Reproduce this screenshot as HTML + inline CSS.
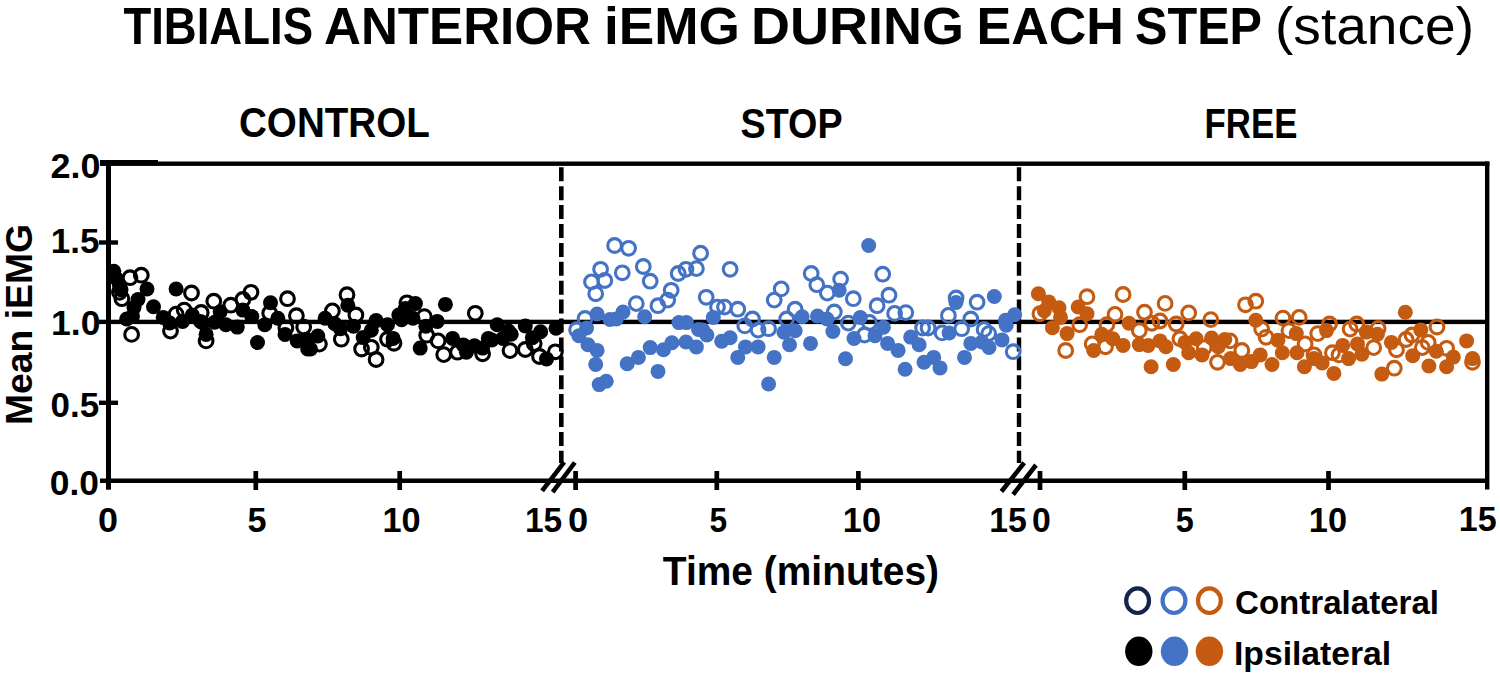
<!DOCTYPE html>
<html><head><meta charset="utf-8"><title>Tibialis anterior iEMG</title>
<style>html,body{margin:0;padding:0;background:#fff;}body{width:1500px;height:679px;overflow:hidden;}svg{display:block;font-family:'Liberation Sans',sans-serif;}text{font-family:'Liberation Sans',sans-serif;fill:#000;}</style>
</head><body>
<svg width="1500" height="679" viewBox="0 0 1500 679"><rect width="1500" height="679" fill="#fff"/><rect x="100" y="161.5" width="1389.40" height="4.40" fill="#000"/><rect x="100" y="160" width="58.00" height="5.40" fill="#000"/><rect x="1485" y="161.5" width="4.40" height="328.00" fill="#000"/><rect x="106" y="161.5" width="5.00" height="328.20" fill="#000"/><rect x="99" y="240.3" width="19.00" height="4.40" fill="#000"/><rect x="99" y="400.6" width="19.00" height="4.40" fill="#000"/><rect x="99" y="319.7" width="1388.00" height="4.40" fill="#000"/><rect x="100" y="478.5" width="1389.00" height="4.50" fill="#000"/><rect x="253.45000000000002" y="471" width="4.70" height="19.00" fill="#000"/><rect x="397.34999999999997" y="471" width="4.70" height="19.00" fill="#000"/><rect x="573.25" y="471" width="4.70" height="19.00" fill="#000"/><rect x="714.4499999999999" y="471" width="4.70" height="19.00" fill="#000"/><rect x="856.05" y="471" width="4.70" height="19.00" fill="#000"/><rect x="1037.65" y="471" width="4.70" height="19.00" fill="#000"/><rect x="1182.45" y="471" width="4.70" height="19.00" fill="#000"/><rect x="1326.15" y="471" width="4.70" height="19.00" fill="#000"/><line x1="561.3" y1="167.3" x2="561.3" y2="463" stroke="#000" stroke-width="4.6" stroke-dasharray="14 4.9"/><line x1="1019" y1="167.3" x2="1019" y2="463" stroke="#000" stroke-width="4.4" stroke-dasharray="14 4.9"/><line x1="542.1" y1="490.8" x2="564.2" y2="462.1" stroke="#000" stroke-width="4.6"/><line x1="552.7" y1="492.2" x2="574.8" y2="462.5" stroke="#000" stroke-width="4.6"/><line x1="1001.4" y1="491.5" x2="1024.2" y2="462.8" stroke="#000" stroke-width="4.6"/><line x1="1013.1" y1="494.5" x2="1036" y2="465" stroke="#000" stroke-width="4.6"/><text x="123.40" y="44.4" font-weight="bold" font-size="51" textLength="189.60" lengthAdjust="spacingAndGlyphs">TIBIALIS</text><text x="324.00" y="44.4" font-weight="bold" font-size="51" textLength="267.00" lengthAdjust="spacingAndGlyphs">ANTERIOR</text><text x="604.00" y="44.4" font-weight="bold" font-size="51" textLength="136.00" lengthAdjust="spacingAndGlyphs">iEMG</text><text x="751.00" y="44.4" font-weight="bold" font-size="51" textLength="213.00" lengthAdjust="spacingAndGlyphs">DURING</text><text x="976.40" y="44.4" font-weight="bold" font-size="51" textLength="147.60" lengthAdjust="spacingAndGlyphs">EACH</text><text x="1135.00" y="44.4" font-weight="bold" font-size="51" textLength="127.00" lengthAdjust="spacingAndGlyphs">STEP</text><text x="1275.00" y="44.4" font-weight="normal" font-size="51" textLength="199.00" lengthAdjust="spacingAndGlyphs">(stance)</text><text x="239.00" y="136.5" font-weight="bold" font-size="43" textLength="190.80" lengthAdjust="spacingAndGlyphs">CONTROL</text><text x="740.60" y="137.7" font-weight="bold" font-size="43" textLength="102.00" lengthAdjust="spacingAndGlyphs">STOP</text><text x="1204.60" y="138.2" font-weight="bold" font-size="43" textLength="92.80" lengthAdjust="spacingAndGlyphs">FREE</text><text x="662.80" y="584.6" font-weight="bold" font-size="40.5" textLength="276.20" lengthAdjust="spacingAndGlyphs">Time (minutes)</text><text x="1235.00" y="614" font-weight="bold" font-size="34" textLength="204.00" lengthAdjust="spacingAndGlyphs">Contralateral</text><text x="1234.00" y="664.5" font-weight="bold" font-size="34" textLength="157.20" lengthAdjust="spacingAndGlyphs">Ipsilateral</text><text x="50.40" y="177.6" font-weight="bold" font-size="34.5" textLength="50.00" lengthAdjust="spacingAndGlyphs">2.0</text><text x="50.80" y="252.9" font-weight="bold" font-size="34.5" textLength="48.60" lengthAdjust="spacingAndGlyphs">1.5</text><text x="51.00" y="334.9" font-weight="bold" font-size="34.5" textLength="49.40" lengthAdjust="spacingAndGlyphs">1.0</text><text x="50.60" y="417.1" font-weight="bold" font-size="34.5" textLength="48.60" lengthAdjust="spacingAndGlyphs">0.5</text><text x="49.80" y="494.7" font-weight="bold" font-size="34.5" textLength="49.20" lengthAdjust="spacingAndGlyphs">0.0</text><text x="98.00" y="532" font-weight="bold" font-size="34.5" textLength="20.00" lengthAdjust="spacingAndGlyphs">0</text><text x="247.60" y="532" font-weight="bold" font-size="34.5" textLength="19.00" lengthAdjust="spacingAndGlyphs">5</text><text x="382.40" y="532" font-weight="bold" font-size="34.5" textLength="38.20" lengthAdjust="spacingAndGlyphs">10</text><text x="525.00" y="532" font-weight="bold" font-size="34.5" textLength="37.20" lengthAdjust="spacingAndGlyphs">15</text><text x="568.00" y="532" font-weight="bold" font-size="34.5" textLength="20.20" lengthAdjust="spacingAndGlyphs">0</text><text x="709.40" y="532" font-weight="bold" font-size="34.5" textLength="17.60" lengthAdjust="spacingAndGlyphs">5</text><text x="842.80" y="532" font-weight="bold" font-size="34.5" textLength="38.20" lengthAdjust="spacingAndGlyphs">10</text><text x="989.20" y="532" font-weight="bold" font-size="34.5" textLength="37.60" lengthAdjust="spacingAndGlyphs">15</text><text x="1032.00" y="532" font-weight="bold" font-size="34.5" textLength="18.80" lengthAdjust="spacingAndGlyphs">0</text><text x="1175.80" y="532" font-weight="bold" font-size="34.5" textLength="18.00" lengthAdjust="spacingAndGlyphs">5</text><text x="1308.80" y="532" font-weight="bold" font-size="34.5" textLength="38.20" lengthAdjust="spacingAndGlyphs">10</text><text x="1458.80" y="531" font-weight="bold" font-size="34.5" textLength="37.80" lengthAdjust="spacingAndGlyphs">15</text><text transform="translate(31.6,522) rotate(-90)" x="97.00" y="0" font-weight="bold" font-size="37.6" textLength="201.00" lengthAdjust="spacingAndGlyphs">Mean iEMG</text><g fill="none" stroke="#000" stroke-width="3.1"><circle cx="130.0" cy="277.7" r="6.85"/><circle cx="141.3" cy="275.2" r="6.85"/><circle cx="121.9" cy="298.7" r="6.85"/><circle cx="119.4" cy="292.3" r="6.85"/><circle cx="131.6" cy="334.4" r="6.85"/><circle cx="191.5" cy="293.0" r="6.85"/><circle cx="176.1" cy="314.1" r="6.85"/><circle cx="184.2" cy="310.1" r="6.85"/><circle cx="170.5" cy="331.1" r="6.85"/><circle cx="201.2" cy="312.5" r="6.85"/><circle cx="206.1" cy="340.9" r="6.85"/><circle cx="213.8" cy="301.2" r="6.85"/><circle cx="230.8" cy="305.2" r="6.85"/><circle cx="242.9" cy="299.5" r="6.85"/><circle cx="251.0" cy="292.3" r="6.85"/><circle cx="287.5" cy="298.7" r="6.85"/><circle cx="296.4" cy="315.7" r="6.85"/><circle cx="303.7" cy="327.1" r="6.85"/><circle cx="269.7" cy="313.3" r="6.85"/><circle cx="285.9" cy="327.9" r="6.85"/><circle cx="347.0" cy="294.7" r="6.85"/><circle cx="332.4" cy="310.9" r="6.85"/><circle cx="355.9" cy="315.0" r="6.85"/><circle cx="319.4" cy="344.1" r="6.85"/><circle cx="341.3" cy="339.2" r="6.85"/><circle cx="361.6" cy="349.0" r="6.85"/><circle cx="371.3" cy="347.3" r="6.85"/><circle cx="376.1" cy="359.5" r="6.85"/><circle cx="387.5" cy="339.2" r="6.85"/><circle cx="394.0" cy="343.3" r="6.85"/><circle cx="406.9" cy="302.8" r="6.85"/><circle cx="424.3" cy="316.6" r="6.85"/><circle cx="426.7" cy="335.2" r="6.85"/><circle cx="438.1" cy="340.9" r="6.85"/><circle cx="443.7" cy="354.6" r="6.85"/><circle cx="457.5" cy="352.2" r="6.85"/><circle cx="475.3" cy="313.3" r="6.85"/><circle cx="482.6" cy="353.8" r="6.85"/><circle cx="510.0" cy="350.6" r="6.85"/><circle cx="525.3" cy="349.5" r="6.85"/><circle cx="534.2" cy="343.6" r="6.85"/><circle cx="539.5" cy="356.5" r="6.85"/><circle cx="555.4" cy="351.8" r="6.85"/></g><g fill="#000"><circle cx="113.8" cy="271.2" r="7.5"/><circle cx="116.2" cy="278.5" r="7.5"/><circle cx="119.4" cy="285.0" r="7.5"/><circle cx="121.0" cy="289.8" r="7.5"/><circle cx="147.0" cy="289.0" r="7.5"/><circle cx="138.0" cy="299.5" r="7.5"/><circle cx="134.0" cy="307.6" r="7.5"/><circle cx="153.5" cy="306.8" r="7.5"/><circle cx="126.7" cy="319.0" r="7.5"/><circle cx="132.4" cy="316.6" r="7.5"/><circle cx="176.1" cy="289.0" r="7.5"/><circle cx="163.2" cy="317.4" r="7.5"/><circle cx="169.7" cy="323.0" r="7.5"/><circle cx="182.6" cy="321.4" r="7.5"/><circle cx="192.3" cy="315.0" r="7.5"/><circle cx="200.4" cy="321.4" r="7.5"/><circle cx="206.1" cy="334.4" r="7.5"/><circle cx="203.2" cy="323.0" r="7.5"/><circle cx="214.6" cy="322.2" r="7.5"/><circle cx="220.2" cy="311.7" r="7.5"/><circle cx="225.9" cy="324.7" r="7.5"/><circle cx="237.3" cy="327.1" r="7.5"/><circle cx="242.9" cy="310.1" r="7.5"/><circle cx="251.8" cy="316.6" r="7.5"/><circle cx="264.8" cy="324.7" r="7.5"/><circle cx="270.5" cy="302.8" r="7.5"/><circle cx="277.8" cy="318.2" r="7.5"/><circle cx="257.5" cy="342.5" r="7.5"/><circle cx="285.0" cy="334.4" r="7.5"/><circle cx="297.2" cy="340.9" r="7.5"/><circle cx="307.7" cy="349.0" r="7.5"/><circle cx="347.8" cy="305.2" r="7.5"/><circle cx="325.1" cy="318.2" r="7.5"/><circle cx="334.8" cy="323.8" r="7.5"/><circle cx="340.5" cy="328.7" r="7.5"/><circle cx="353.5" cy="326.3" r="7.5"/><circle cx="310.5" cy="349.0" r="7.5"/><circle cx="317.8" cy="336.0" r="7.5"/><circle cx="306.5" cy="339.2" r="7.5"/><circle cx="363.2" cy="337.6" r="7.5"/><circle cx="371.3" cy="330.3" r="7.5"/><circle cx="376.1" cy="320.6" r="7.5"/><circle cx="387.5" cy="324.7" r="7.5"/><circle cx="393.1" cy="338.4" r="7.5"/><circle cx="398.8" cy="315.0" r="7.5"/><circle cx="405.3" cy="308.5" r="7.5"/><circle cx="415.4" cy="303.6" r="7.5"/><circle cx="404.9" cy="310.1" r="7.5"/><circle cx="401.6" cy="319.8" r="7.5"/><circle cx="413.0" cy="318.2" r="7.5"/><circle cx="425.9" cy="326.3" r="7.5"/><circle cx="437.3" cy="321.4" r="7.5"/><circle cx="445.4" cy="304.4" r="7.5"/><circle cx="420.2" cy="348.1" r="7.5"/><circle cx="452.6" cy="338.4" r="7.5"/><circle cx="463.2" cy="344.9" r="7.5"/><circle cx="466.4" cy="352.2" r="7.5"/><circle cx="474.5" cy="345.7" r="7.5"/><circle cx="482.6" cy="348.1" r="7.5"/><circle cx="488.3" cy="338.4" r="7.5"/><circle cx="497.2" cy="324.7" r="7.5"/><circle cx="502.9" cy="338.4" r="7.5"/><circle cx="508.5" cy="331.1" r="7.5"/><circle cx="491.8" cy="340.0" r="7.5"/><circle cx="511.2" cy="334.2" r="7.5"/><circle cx="525.3" cy="325.9" r="7.5"/><circle cx="532.4" cy="337.7" r="7.5"/><circle cx="540.6" cy="331.8" r="7.5"/><circle cx="556.0" cy="328.3" r="7.5"/><circle cx="546.5" cy="358.9" r="7.5"/></g><g fill="none" stroke="#4472c4" stroke-width="3.1"><circle cx="614.6" cy="245.5" r="6.85"/><circle cx="628.6" cy="248.3" r="6.85"/><circle cx="600.6" cy="269.3" r="6.85"/><circle cx="604.8" cy="280.5" r="6.85"/><circle cx="591.5" cy="281.9" r="6.85"/><circle cx="595.7" cy="293.8" r="6.85"/><circle cx="622.3" cy="272.8" r="6.85"/><circle cx="643.3" cy="266.5" r="6.85"/><circle cx="650.2" cy="281.2" r="6.85"/><circle cx="636.3" cy="303.6" r="6.85"/><circle cx="657.9" cy="305.7" r="6.85"/><circle cx="667.7" cy="300.1" r="6.85"/><circle cx="671.2" cy="290.3" r="6.85"/><circle cx="678.2" cy="273.5" r="6.85"/><circle cx="686.0" cy="269.3" r="6.85"/><circle cx="696.4" cy="268.6" r="6.85"/><circle cx="700.6" cy="253.2" r="6.85"/><circle cx="706.2" cy="297.3" r="6.85"/><circle cx="585.0" cy="318.5" r="6.85"/><circle cx="576.6" cy="329.7" r="6.85"/><circle cx="730.1" cy="269.3" r="6.85"/><circle cx="717.5" cy="307.1" r="6.85"/><circle cx="724.5" cy="307.1" r="6.85"/><circle cx="737.8" cy="309.2" r="6.85"/><circle cx="752.5" cy="319.0" r="6.85"/><circle cx="781.2" cy="288.9" r="6.85"/><circle cx="774.2" cy="300.1" r="6.85"/><circle cx="795.1" cy="309.2" r="6.85"/><circle cx="786.7" cy="319.0" r="6.85"/><circle cx="811.2" cy="273.5" r="6.85"/><circle cx="816.8" cy="284.7" r="6.85"/><circle cx="827.3" cy="293.1" r="6.85"/><circle cx="840.6" cy="279.1" r="6.85"/><circle cx="834.3" cy="312.0" r="6.85"/><circle cx="744.8" cy="325.9" r="6.85"/><circle cx="758.1" cy="330.1" r="6.85"/><circle cx="768.6" cy="328.7" r="6.85"/><circle cx="848.3" cy="323.1" r="6.85"/><circle cx="882.7" cy="274.2" r="6.85"/><circle cx="853.3" cy="298.7" r="6.85"/><circle cx="889.0" cy="295.2" r="6.85"/><circle cx="877.1" cy="305.7" r="6.85"/><circle cx="894.6" cy="313.4" r="6.85"/><circle cx="905.8" cy="312.6" r="6.85"/><circle cx="956.1" cy="298.0" r="6.85"/><circle cx="977.1" cy="302.2" r="6.85"/><circle cx="948.4" cy="315.4" r="6.85"/><circle cx="970.8" cy="319.0" r="6.85"/><circle cx="869.4" cy="322.4" r="6.85"/><circle cx="864.5" cy="335.0" r="6.85"/><circle cx="922.6" cy="328.0" r="6.85"/><circle cx="928.1" cy="328.0" r="6.85"/><circle cx="942.1" cy="332.9" r="6.85"/><circle cx="961.7" cy="328.7" r="6.85"/><circle cx="984.1" cy="329.4" r="6.85"/><circle cx="988.7" cy="333.6" r="6.85"/><circle cx="1013.2" cy="351.7" r="6.85"/></g><g fill="#4472c4"><circle cx="597.1" cy="314.0" r="7.5"/><circle cx="610.0" cy="319.5" r="7.5"/><circle cx="623.0" cy="312.0" r="7.5"/><circle cx="644.7" cy="316.8" r="7.5"/><circle cx="678.9" cy="322.6" r="7.5"/><circle cx="686.4" cy="322.6" r="7.5"/><circle cx="616.3" cy="318.9" r="7.5"/><circle cx="586.6" cy="328.0" r="7.5"/><circle cx="578.9" cy="335.7" r="7.5"/><circle cx="588.0" cy="344.8" r="7.5"/><circle cx="597.1" cy="350.4" r="7.5"/><circle cx="595.7" cy="364.4" r="7.5"/><circle cx="599.2" cy="384.6" r="7.5"/><circle cx="606.2" cy="381.2" r="7.5"/><circle cx="627.2" cy="363.7" r="7.5"/><circle cx="638.4" cy="357.4" r="7.5"/><circle cx="650.2" cy="347.6" r="7.5"/><circle cx="663.5" cy="349.7" r="7.5"/><circle cx="671.9" cy="342.7" r="7.5"/><circle cx="658.0" cy="371.4" r="7.5"/><circle cx="686.0" cy="342.0" r="7.5"/><circle cx="696.4" cy="346.9" r="7.5"/><circle cx="698.5" cy="329.4" r="7.5"/><circle cx="706.9" cy="335.0" r="7.5"/><circle cx="713.3" cy="317.5" r="7.5"/><circle cx="802.1" cy="316.8" r="7.5"/><circle cx="817.5" cy="316.1" r="7.5"/><circle cx="827.0" cy="319.0" r="7.5"/><circle cx="839.2" cy="290.3" r="7.5"/><circle cx="702.8" cy="330.1" r="7.5"/><circle cx="721.7" cy="341.3" r="7.5"/><circle cx="730.1" cy="337.8" r="7.5"/><circle cx="737.8" cy="357.4" r="7.5"/><circle cx="745.5" cy="346.9" r="7.5"/><circle cx="758.1" cy="346.9" r="7.5"/><circle cx="774.2" cy="357.4" r="7.5"/><circle cx="768.6" cy="384.0" r="7.5"/><circle cx="784.0" cy="332.2" r="7.5"/><circle cx="795.1" cy="330.8" r="7.5"/><circle cx="789.5" cy="344.8" r="7.5"/><circle cx="810.5" cy="343.4" r="7.5"/><circle cx="832.9" cy="331.5" r="7.5"/><circle cx="845.5" cy="358.8" r="7.5"/><circle cx="868.7" cy="245.5" r="7.5"/><circle cx="956.0" cy="302.5" r="7.5"/><circle cx="860.3" cy="317.5" r="7.5"/><circle cx="994.3" cy="296.5" r="7.5"/><circle cx="854.0" cy="338.5" r="7.5"/><circle cx="875.0" cy="335.7" r="7.5"/><circle cx="883.4" cy="327.3" r="7.5"/><circle cx="887.6" cy="343.4" r="7.5"/><circle cx="898.1" cy="350.4" r="7.5"/><circle cx="905.1" cy="369.3" r="7.5"/><circle cx="910.7" cy="337.1" r="7.5"/><circle cx="919.1" cy="344.8" r="7.5"/><circle cx="924.0" cy="362.3" r="7.5"/><circle cx="933.7" cy="357.4" r="7.5"/><circle cx="940.0" cy="367.9" r="7.5"/><circle cx="949.1" cy="332.9" r="7.5"/><circle cx="964.5" cy="357.4" r="7.5"/><circle cx="970.8" cy="343.4" r="7.5"/><circle cx="982.0" cy="342.0" r="7.5"/><circle cx="989.0" cy="347.4" r="7.5"/><circle cx="1002.0" cy="339.9" r="7.5"/><circle cx="1006.2" cy="325.2" r="7.5"/><circle cx="1014.6" cy="314.7" r="7.5"/><circle cx="1005.5" cy="320.3" r="7.5"/></g><g fill="none" stroke="#c55a11" stroke-width="3.1"><circle cx="1087.0" cy="296.7" r="6.85"/><circle cx="1123.1" cy="294.5" r="6.85"/><circle cx="1039.9" cy="313.7" r="6.85"/><circle cx="1079.7" cy="324.7" r="6.85"/><circle cx="1065.7" cy="350.5" r="6.85"/><circle cx="1115.0" cy="314.4" r="6.85"/><circle cx="1106.9" cy="324.7" r="6.85"/><circle cx="1092.2" cy="343.9" r="6.85"/><circle cx="1105.5" cy="346.8" r="6.85"/><circle cx="1139.3" cy="330.6" r="6.85"/><circle cx="1144.5" cy="312.2" r="6.85"/><circle cx="1151.9" cy="323.3" r="6.85"/><circle cx="1160.0" cy="321.0" r="6.85"/><circle cx="1165.1" cy="303.4" r="6.85"/><circle cx="1188.7" cy="312.9" r="6.85"/><circle cx="1176.2" cy="324.0" r="6.85"/><circle cx="1210.8" cy="319.6" r="6.85"/><circle cx="1245.5" cy="304.8" r="6.85"/><circle cx="1255.8" cy="301.2" r="6.85"/><circle cx="1261.7" cy="329.1" r="6.85"/><circle cx="1266.1" cy="337.3" r="6.85"/><circle cx="1283.0" cy="318.1" r="6.85"/><circle cx="1299.2" cy="317.4" r="6.85"/><circle cx="1288.9" cy="330.6" r="6.85"/><circle cx="1305.1" cy="343.9" r="6.85"/><circle cx="1179.9" cy="338.7" r="6.85"/><circle cx="1204.2" cy="347.6" r="6.85"/><circle cx="1230.0" cy="340.9" r="6.85"/><circle cx="1241.8" cy="350.5" r="6.85"/><circle cx="1217.5" cy="362.3" r="6.85"/><circle cx="1317.7" cy="333.6" r="6.85"/><circle cx="1329.5" cy="324.0" r="6.85"/><circle cx="1314.0" cy="354.9" r="6.85"/><circle cx="1332.4" cy="352.7" r="6.85"/><circle cx="1339.0" cy="354.9" r="6.85"/><circle cx="1350.1" cy="329.1" r="6.85"/><circle cx="1356.7" cy="324.0" r="6.85"/><circle cx="1378.1" cy="328.4" r="6.85"/><circle cx="1373.7" cy="347.6" r="6.85"/><circle cx="1396.5" cy="349.8" r="6.85"/><circle cx="1406.1" cy="339.5" r="6.85"/><circle cx="1412.0" cy="335.0" r="6.85"/><circle cx="1422.3" cy="347.6" r="6.85"/><circle cx="1428.2" cy="342.4" r="6.85"/><circle cx="1437.0" cy="327.0" r="6.85"/><circle cx="1394.3" cy="368.2" r="6.85"/><circle cx="1446.6" cy="348.3" r="6.85"/><circle cx="1472.5" cy="362.3" r="6.85"/></g><g fill="#c55a11"><circle cx="1038.4" cy="293.8" r="7.5"/><circle cx="1048.7" cy="301.9" r="7.5"/><circle cx="1044.3" cy="310.7" r="7.5"/><circle cx="1059.0" cy="307.8" r="7.5"/><circle cx="1060.5" cy="317.4" r="7.5"/><circle cx="1052.4" cy="327.7" r="7.5"/><circle cx="1067.1" cy="333.6" r="7.5"/><circle cx="1078.2" cy="307.0" r="7.5"/><circle cx="1087.0" cy="313.7" r="7.5"/><circle cx="1101.8" cy="334.3" r="7.5"/><circle cx="1093.7" cy="350.5" r="7.5"/><circle cx="1112.8" cy="338.7" r="7.5"/><circle cx="1123.1" cy="345.4" r="7.5"/><circle cx="1129.0" cy="323.3" r="7.5"/><circle cx="1139.3" cy="344.6" r="7.5"/><circle cx="1148.2" cy="345.4" r="7.5"/><circle cx="1160.0" cy="340.9" r="7.5"/><circle cx="1165.9" cy="346.8" r="7.5"/><circle cx="1151.1" cy="366.7" r="7.5"/><circle cx="1173.3" cy="364.5" r="7.5"/><circle cx="1185.0" cy="342.4" r="7.5"/><circle cx="1188.7" cy="352.7" r="7.5"/><circle cx="1196.1" cy="338.7" r="7.5"/><circle cx="1202.0" cy="354.9" r="7.5"/><circle cx="1211.6" cy="338.0" r="7.5"/><circle cx="1218.2" cy="346.8" r="7.5"/><circle cx="1224.8" cy="339.5" r="7.5"/><circle cx="1230.7" cy="358.6" r="7.5"/><circle cx="1240.3" cy="364.5" r="7.5"/><circle cx="1251.4" cy="361.6" r="7.5"/><circle cx="1260.2" cy="354.9" r="7.5"/><circle cx="1255.8" cy="320.3" r="7.5"/><circle cx="1272.0" cy="364.5" r="7.5"/><circle cx="1277.9" cy="340.2" r="7.5"/><circle cx="1282.3" cy="352.7" r="7.5"/><circle cx="1296.3" cy="333.6" r="7.5"/><circle cx="1297.0" cy="352.7" r="7.5"/><circle cx="1304.4" cy="366.7" r="7.5"/><circle cx="1314.0" cy="358.6" r="7.5"/><circle cx="1322.1" cy="363.0" r="7.5"/><circle cx="1326.5" cy="330.6" r="7.5"/><circle cx="1333.9" cy="373.4" r="7.5"/><circle cx="1342.7" cy="345.4" r="7.5"/><circle cx="1348.6" cy="358.6" r="7.5"/><circle cx="1357.5" cy="343.9" r="7.5"/><circle cx="1361.9" cy="354.2" r="7.5"/><circle cx="1366.3" cy="332.1" r="7.5"/><circle cx="1377.4" cy="334.3" r="7.5"/><circle cx="1381.8" cy="374.1" r="7.5"/><circle cx="1391.4" cy="342.4" r="7.5"/><circle cx="1405.3" cy="312.2" r="7.5"/><circle cx="1412.7" cy="355.7" r="7.5"/><circle cx="1420.8" cy="329.9" r="7.5"/><circle cx="1428.9" cy="366.0" r="7.5"/><circle cx="1436.3" cy="351.2" r="7.5"/><circle cx="1446.6" cy="366.7" r="7.5"/><circle cx="1453.3" cy="357.1" r="7.5"/><circle cx="1466.6" cy="340.9" r="7.5"/><circle cx="1472.5" cy="358.6" r="7.5"/></g><ellipse cx="1137.6" cy="600.7" rx="11.4" ry="12.3" fill="none" stroke="#14244a" stroke-width="4.2"/><ellipse cx="1174" cy="600.7" rx="11.4" ry="12.3" fill="none" stroke="#4472c4" stroke-width="4.2"/><ellipse cx="1209.4" cy="600.7" rx="11.4" ry="12.3" fill="none" stroke="#c55a11" stroke-width="4.2"/><ellipse cx="1138.8" cy="651.3" rx="13.7" ry="14.7" fill="#000"/><ellipse cx="1174.5" cy="651.3" rx="13.7" ry="14.7" fill="#4472c4"/><ellipse cx="1209.4" cy="651.3" rx="13.7" ry="14.7" fill="#c55a11"/></svg>
</body></html>
